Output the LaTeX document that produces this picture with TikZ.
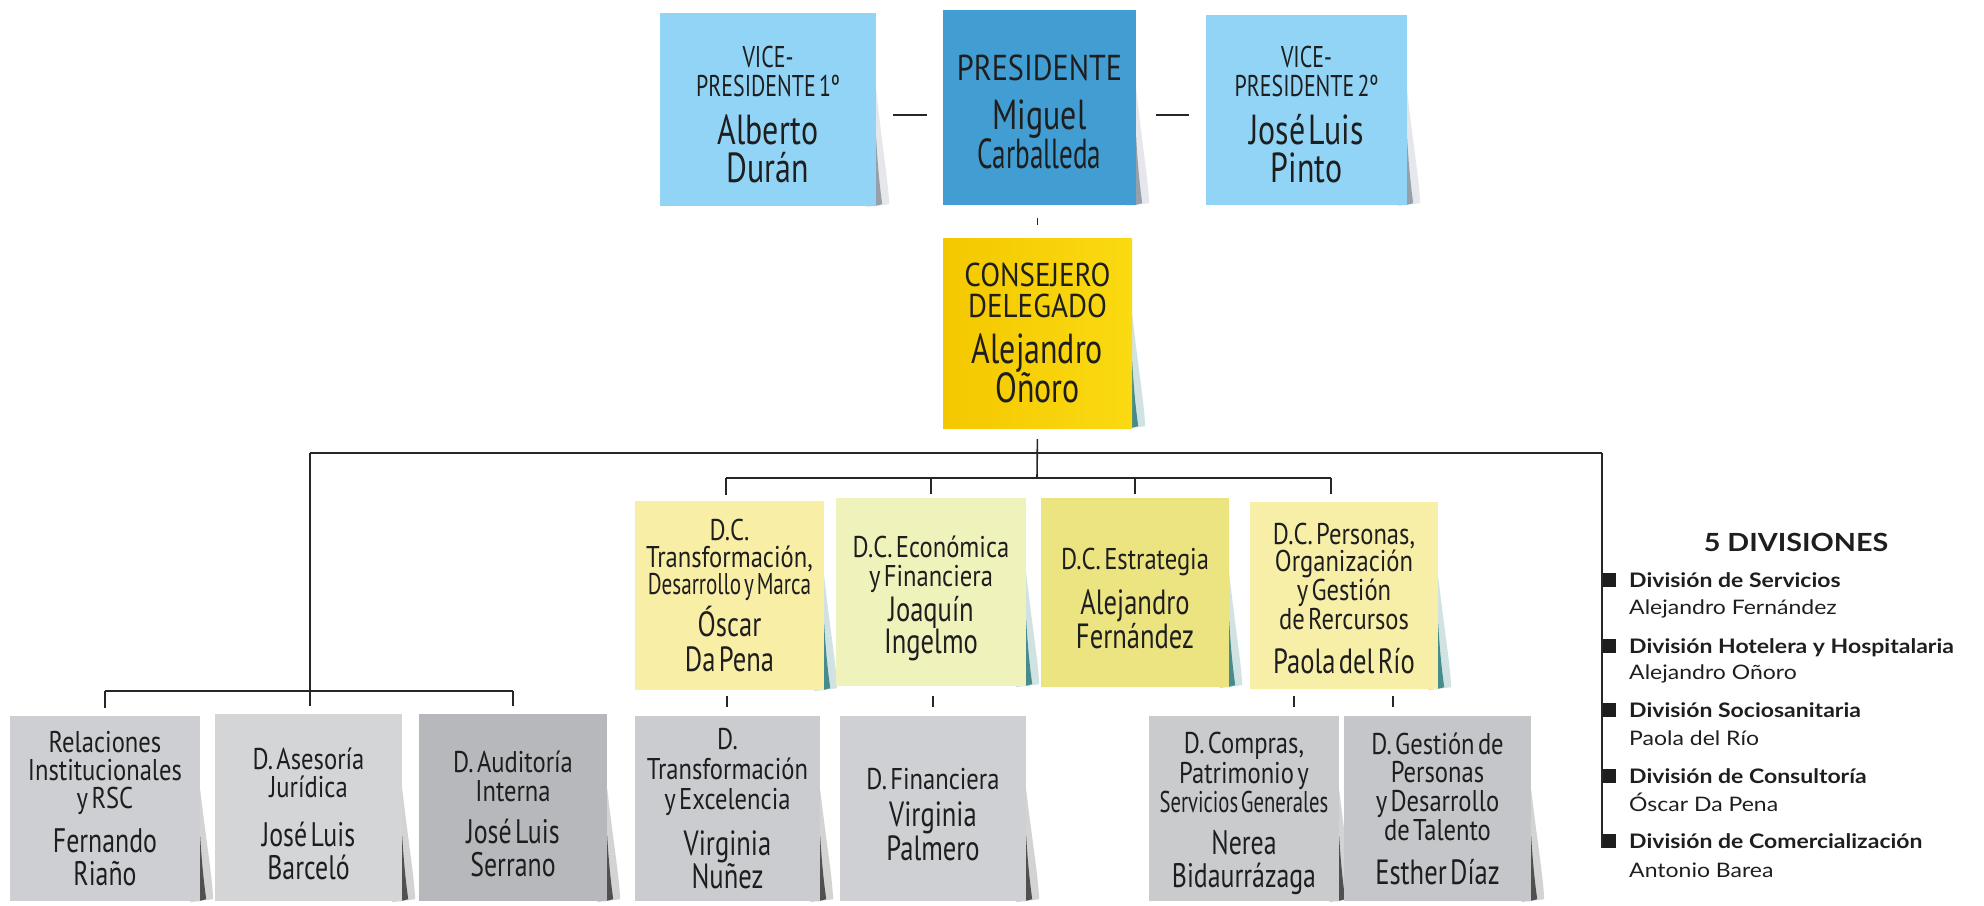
\documentclass[tikz,border=0pt]{standalone}
\usepackage{fontspec}
\usepackage{graphicx}
\setmainfont{Lato}[FakeStretch=1.15]
\newfontfamily\hwVP[FakeStretch=0.73]{PT Sans}
\newfontfamily\hwPR[FakeStretch=0.84]{PT Sans}
\newfontfamily\hwCO[FakeStretch=0.88]{PT Sans}
\newfontfamily\hwHd[FakeStretch=0.82]{PT Sans}
\newfontfamily\hwNm[FakeStretch=0.76]{PT Sans}
\usetikzlibrary{calc,backgrounds}
\newcommand\HwVP[2]{\hwVP\fontsize{#1}{#2}\selectfont}
\newcommand\HwPR[2]{\hwPR\fontsize{#1}{#2}\selectfont}
\newcommand\HwCO[2]{\hwCO\fontsize{#1}{#2}\selectfont}
\newcommand\HwH[2]{\hwHd\fontsize{#1}{#2}\selectfont}
\newcommand\HwN[2]{\hwNm\fontsize{#1}{#2}\selectfont}
\definecolor{vpblue}{RGB}{146,212,245}
\definecolor{presblue}{RGB}{66,158,210}
\definecolor{consA}{RGB}{244,200,0}
\definecolor{consB}{RGB}{250,218,18}
\definecolor{dcA}{RGB}{248,238,165}
\definecolor{dcB}{RGB}{240,242,188}
\definecolor{dcC}{RGB}{236,228,128}
\definecolor{dcD}{RGB}{247,238,168}
\definecolor{grA}{RGB}{205,207,210}
\definecolor{grB}{RGB}{211,213,215}
\definecolor{grC}{RGB}{182,184,187}
\definecolor{grD}{RGB}{202,204,207}
\definecolor{grE}{RGB}{206,208,211}
\definecolor{grF}{RGB}{201,203,205}
\definecolor{grG}{RGB}{196,198,201}
\definecolor{ink}{RGB}{30,30,30}
\definecolor{shblue}{RGB}{150,160,170}
\definecolor{shteal}{RGB}{70,140,140}
\definecolor{shgray}{RGB}{80,80,80}
\newcommand\NoteShadow[2]{%
  \fill[#2, opacity=0.25] ($(#1.north east)!0.4!(#1.south east)$) .. controls ($(#1.south east)+(6,-60)$) and ($(#1.south east)+(12,-25)$) .. ($(#1.south east)+(13,-2)$) -- ($(#1.south east)+(-10,1)$) -- cycle;
  \fill[#2] ($(#1.north east)!0.65!(#1.south east)$) .. controls ($(#1.south east)+(2,-30)$) and ($(#1.south east)+(5,-10)$) .. ($(#1.south east)+(6,-2)$) -- ($(#1.south east)+(-2,0)$) -- cycle;
}
\tikzset{
  note/.style n args={3}{rectangle, inner sep=0pt, minimum width=#1, minimum height=#2, fill=#3},
  notetext/.style={inner sep=0pt, text width=#1, align=center, text=ink},
  conn/.style={draw=black!85, line width=1.6pt},
  bullet/.style={rectangle, fill=ink, inner sep=0pt, minimum size=14pt},
  divhead/.style={anchor=base west, inner sep=0pt, text=ink, font=\bfseries\fontsize{20}{22}\selectfont},
  divname/.style={anchor=base west, inner sep=0pt, text=ink, font=\fontsize{20}{22}\selectfont},
}
\begin{document}
\begin{tikzpicture}[x=1pt,y=-1pt]
\useasboundingbox (0,0) rectangle (1984,905);
% sticky notes
\node[note={216pt}{193pt}{vpblue}] (vp1) at (768,109.5) {};
\node[note={193pt}{195pt}{presblue}] (pres) at (1039.5,107.5) {};
\node[note={201pt}{190pt}{vpblue}] (vp2) at (1306.5,110) {};
\node[note={189pt}{190pt}{consA}, left color=consA, right color=consB] (cons) at (1037.5,333) {};
\node[note={189pt}{189pt}{dcA}] (dc1) at (729.5,595.5) {};
\node[note={190pt}{188pt}{dcB}] (dc2) at (931,592) {};
\node[note={188pt}{189pt}{dcC}] (dc3) at (1135,592.5) {};
\node[note={188pt}{187pt}{dcD}] (dc4) at (1344,595.5) {};
\node[note={190pt}{185pt}{grA}] (b1) at (105,808.5) {};
\node[note={187pt}{187pt}{grB}] (b2) at (308.5,807.5) {};
\node[note={188pt}{187pt}{grC}] (b3) at (513,807.5) {};
\node[note={185pt}{185pt}{grD}] (b4) at (727.5,808.5) {};
\node[note={186pt}{185pt}{grE}] (b5) at (933,808.5) {};
\node[note={190pt}{185pt}{grF}] (b6) at (1244,808.5) {};
\node[note={187pt}{185pt}{grG}] (b7) at (1437.5,808.5) {};
% texts
\node[notetext=216pt] (vp1t) at ($(vp1.center)+(0,5)$) {{\HwVP{30}{29}VICE-\\PRESIDENTE 1º\par}\vspace{10pt}{\HwN{42}{38}Alberto\\Durán\par}};
\node[notetext=193pt] (prest) at ($(pres.center)+(0,4)$) {{\HwPR{36}{34}PRESIDENTE\par}\vspace{10pt}{\HwN{42}{39}Miguel\\\scalebox{0.85}[1]{Carballeda}\par}};
\node[notetext=201pt] (vp2t) at ($(vp2.center)+(0,5)$) {{\HwVP{30}{29}VICE-\\PRESIDENTE 2º\par}\vspace{10pt}{\HwN{42}{38}José Luis\\Pinto\par}};
\node[notetext=189pt] (const) at (cons.center) {{\HwCO{33}{31}CONSEJERO\\DELEGADO\par}\vspace{9pt}{\HwN{42}{37}Alejandro\\Oñoro\par}};
\node[notetext=189pt] (dc1t) at ($(dc1.center)+(0,0)$) {{\HwH{30}{27}D.C.\\Transformación,\\\scalebox{0.86}[1]{Desarrollo y Marca}\par}\vspace{4pt}{\HwN{35}{35}Óscar\\Da Pena\par}};
\node[notetext=190pt] (dc2t) at ($(dc2.center)+(0,6.5)$) {{\HwH{30}{29}D.C. Económica\\y Financiera\par}\vspace{2pt}{\HwN{35}{30}Joaquín\\Ingelmo\par}};
\node[notetext=188pt] (dc3t) at ($(dc3.center)+(0,6)$) {{\HwH{30}{28}D.C. Estrategia\par}\vspace{13pt}{\HwN{35}{30}Alejandro\\Fernández\par}};
\node[notetext=188pt] (dc4t) at ($(dc4.center)+(0,3)$) {{\HwH{30}{25.5}D.C. Personas,\\Organización\\y Gestión\\de Rercursos\par}\vspace{14pt}{\HwN{35}{30}Paola del Río\par}};
\node[notetext=190pt] (b1t) at ($(b1.center)+(0,0)$) {{\HwH{30}{28}Relaciones\\Institucionales\\y RSC\par}\vspace{11pt}{\HwN{34}{33}Fernando\\Riaño\par}};
\node[notetext=187pt] (b2t) at ($(b2.center)+(0,6)$) {{\HwH{30}{28}D. Asesoría\\Jurídica\par}\vspace{16pt}{\HwN{34}{33}José Luis\\Barceló\par}};
\node[notetext=188pt] (b3t) at ($(b3.center)+(0,6)$) {{\HwH{30}{29}D. Auditoría\\Interna\par}\vspace{9pt}{\HwN{34}{33}José Luis\\Serrano\par}};
\node[notetext=185pt] (b4t) at (b4.center) {{\HwH{30}{30}D.\\Transformación\\y Excelencia\par}\vspace{14pt}{\HwN{35}{32}Virginia\\Nuñez\par}};
\node[notetext=186pt] (b5t) at ($(b5.center)+(0,6)$) {{\HwH{30}{28}D. Financiera\par}\vspace{6pt}{\HwN{35}{31}Virginia\\Palmero\par}};
\node[notetext=190pt] (b6t) at ($(b6.center)+(0,5)$) {{\HwH{30}{29.5}D. Compras,\\Patrimonio y\\\scalebox{0.84}[1]{Servicios Generales}\par}\vspace{9pt}{\HwN{34}{33}Nerea\\Bidaurrázaga\par}};
\node[notetext=187pt] (b7t) at (b7.center) {{\HwH{30}{28.7}D. Gestión de\\Personas\\y Desarrollo\\de Talento\par}\vspace{14pt}{\HwN{35}{30}Esther Díaz\par}};
% shadows
\begin{pgfonlayer}{background}
\NoteShadow{vp1}{shblue}
\NoteShadow{pres}{shblue}
\NoteShadow{vp2}{shblue}
\NoteShadow{cons}{shteal}
\NoteShadow{dc1}{shteal}
\NoteShadow{dc2}{shteal}
\NoteShadow{dc3}{shteal}
\NoteShadow{dc4}{shteal}
\NoteShadow{b1}{shgray}
\NoteShadow{b2}{shgray}
\NoteShadow{b3}{shgray}
\NoteShadow{b4}{shgray}
\NoteShadow{b5}{shgray}
\NoteShadow{b6}{shgray}
\NoteShadow{b7}{shgray}
\end{pgfonlayer}
% connectors
\draw[conn, shorten <=17pt, shorten >=16pt] (vp1.east |- 0,115) -- (pres.west |- 0,115);
\draw[conn, shorten <=20pt, shorten >=17pt] (pres.east |- 0,115) -- (vp2.west |- 0,115);
\draw[conn, shorten <=13pt, shorten >=13pt] (pres.south -| cons.north) -- (cons.north);
\coordinate (jc) at (1037,478);
\coordinate (mL) at (310,453);
\coordinate (mR) at (1602,453);
\coordinate (sL) at (310,691);
\draw[conn, shorten <=11pt] (cons.south) -- (jc);
\draw[conn] (mL) -- (mR);
\draw[conn] (mL) -- (sL);
\draw[conn] (b1.north |- sL) -- (b3.north |- sL);
\draw[conn, shorten >=8pt] (b1.north |- sL) -- (b1.north);
\draw[conn, shorten >=8pt] (sL) -- (b2.north -| sL);
\draw[conn, shorten >=8pt] (b3.north |- sL) -- (b3.north);
\coordinate (d1) at (726,478);
\coordinate (d4) at (1331,478);
\draw[conn] (d1) -- (d4);
\draw[conn, shorten >=6pt] (d1) -- (dc1.north -| d1);
\draw[conn, shorten >=4pt] (dc2.north |- jc) -- (dc2.north);
\draw[conn, shorten >=4pt] (dc3.north |- jc) -- (dc3.north);
\draw[conn, shorten >=8pt] (d4) -- (dc4.north -| d4);
\coordinate (t4) at (727,0);
\coordinate (t5) at (933,0);
\coordinate (t6) at (1294,0);
\coordinate (t7) at (1393,0);
\draw[conn, shorten <=6pt, shorten >=9pt] (dc1.south -| t4) -- (b4.north -| t4);
\draw[conn, shorten <=10pt, shorten >=9pt] (dc2.south -| t5) -- (b5.north -| t5);
\draw[conn, shorten <=7pt, shorten >=9pt] (dc4.south -| t6) -- (b6.north -| t6);
\draw[conn, shorten <=7pt, shorten >=9pt] (dc4.south -| t7) -- (b7.north -| t7);
% divisions panel
\node[anchor=base, inner sep=0pt, text=ink, font=\bfseries\fontsize{25}{30}\selectfont] (title) at (1796,551) {5 DIVISIONES};
\node[bullet, anchor=south west] (q1) at (1602,587) {};
\node[bullet, anchor=south west] (q2) at (1602,653) {};
\node[bullet, anchor=south west] (q3) at (1602,717) {};
\node[bullet, anchor=south west] (q4) at (1602,783) {};
\node[bullet, anchor=south west] (q5) at (1602,848) {};
\draw[conn] (mR) -- (q5.south west);
\node[divhead] (h1) at (1629,587) {División de Servicios};
\node[divname] (n1) at (1629,614) {Alejandro Fernández};
\node[divhead] (h2) at (1629,653) {División Hotelera y Hospitalaria};
\node[divname] (n2) at (1629,679) {Alejandro Oñoro};
\node[divhead] (h3) at (1629,717) {División Sociosanitaria};
\node[divname] (n3) at (1629,745) {Paola del Río};
\node[divhead] (h4) at (1629,783) {División de Consultoría};
\node[divname] (n4) at (1629,811) {Óscar Da Pena};
\node[divhead] (h5) at (1629,848) {División de Comercialización};
\node[divname] (n5) at (1629,877) {Antonio Barea};
\end{tikzpicture}
\end{document}
